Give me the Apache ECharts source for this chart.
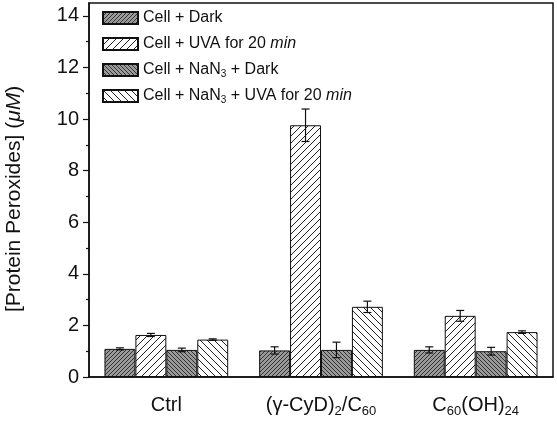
<!DOCTYPE html>
<html><head><meta charset="utf-8">
<script src="https://cdn.jsdelivr.net/npm/echarts@6/dist/echarts.min.js"></script>
<style>html,body{margin:0;padding:0;background:#fff}#c{width:557px;height:426px}</style>
</head><body><div id="c"></div>
<script>
const categories = ['Ctrl', '(γ-CyD)2/C60', 'C60(OH)24'];
const categoryLabels = ['Ctrl', '(γ-CyD){sub|2}/C{sub|60}', 'C{sub|60}(OH){sub|24}'];
const seriesNames = ['Cell + Dark', 'Cell + UVA for 20 min', 'Cell + NaN3 + Dark', 'Cell + NaN3 + UVA for 20 min'];
const seriesLabels = ['Cell + Dark', 'Cell + UVA for 20 {it|min}', 'Cell + NaN{sub|3} + Dark', 'Cell + NaN{sub|3} + UVA for 20 {it|min}'];
const darkValues = [1.09, 1.03, 1.05];
const darkErr = [0.04, 0.14, 0.12];
const uvaValues = [1.63, 9.76, 2.37];
const uvaErr = [0.06, 0.63, 0.21];
const nanDarkValues = [1.05, 1.05, 1.00];
const nanDarkErr = [0.07, 0.30, 0.15];
const nanUvaValues = [1.45, 2.72, 1.74];
const nanUvaErr = [0.03, 0.22, 0.05];
const yMajorTicks = [0, 2, 4, 6, 8, 10, 12, 14];
const yMinorTicks = [1, 3, 5, 7, 9, 11, 13];

function hatch(size, dir, bg, fg, lw) {
  const cv = document.createElement('canvas');
  cv.width = size; cv.height = size;
  const g = cv.getContext('2d');
  g.fillStyle = bg; g.fillRect(0, 0, size, size);
  g.strokeStyle = fg; g.lineWidth = lw;
  g.beginPath();
  if (dir > 0) {
    g.moveTo(-1, size + 1); g.lineTo(size + 1, -1);
    g.moveTo(-1, 1); g.lineTo(1, -1);
    g.moveTo(size - 1, size + 1); g.lineTo(size + 1, size - 1);
  } else {
    g.moveTo(-1, -1); g.lineTo(size + 1, size + 1);
    g.moveTo(size - 1, -1); g.lineTo(size + 1, 1);
    g.moveTo(-1, size - 1); g.lineTo(1, size + 1);
  }
  g.stroke();
  return { image: cv, repeat: 'repeat' };
}
const fills = [
  hatch(4, 1, '#9a9a9a', '#333', 1),
  hatch(7, 1, '#ffffff', '#222', 1),
  hatch(4, -1, '#9a9a9a', '#333', 1),
  hatch(7, -1, '#ffffff', '#222', 1)
];
const values = [darkValues, uvaValues, nanDarkValues, nanUvaValues];
const errs = [darkErr, uvaErr, nanDarkErr, nanUvaErr];
const offsets = [-0.3, -0.1, 0.1, 0.3];
const font = 'Liberation Sans, Arial, sans-serif';

const series = [];
values.forEach((v, i) => {
  series.push({
    name: seriesNames[i], type: 'bar', data: v, barGap: '0%', barCategoryGap: '20%',
    itemStyle: { color: fills[i], borderColor: '#111', borderWidth: 1 }
  });
});
values.forEach((v, i) => {
  series.push({
    type: 'custom', z: 5, silent: true,
    data: v.map((val, k) => [k, val, errs[i][k]]),
    encode: { x: 0, y: 1 },
    renderItem: function (params, api) {
      const c = api.value(0), val = api.value(1), e = api.value(2);
      const w = api.size([1, 0])[0];
      const off = offsets[i] * w;
      const hi = api.coord([c, val + e]);
      const lo = api.coord([c, val - e]);
      const x = hi[0] + off;
      const cap = 4;
      const st = { stroke: '#111', lineWidth: 1.2 };
      return { type: 'group', children: [
        { type: 'line', shape: { x1: x, y1: hi[1], x2: x, y2: lo[1] }, style: st },
        { type: 'line', shape: { x1: x - cap, y1: hi[1], x2: x + cap, y2: hi[1] }, style: st },
        { type: 'line', shape: { x1: x - cap, y1: lo[1], x2: x + cap, y2: lo[1] }, style: st }
      ]};
    }
  });
});

const chart = echarts.init(document.getElementById('c'), null, { renderer: 'canvas' });
chart.setOption({
  animation: false,
  backgroundColor: '#fff',
  grid: { left: 89, right: 4, top: 3, bottom: 49, show: true, borderColor: '#111', borderWidth: 1.5,
    backgroundColor: 'transparent', outerBoundsMode: 'none', containLabel: false },
  legend: {
    data: seriesNames, orient: 'vertical', left: 102, top: 7, itemGap: 4, padding: 0,
    itemWidth: 35, itemHeight: 12, icon: 'rect',
    formatter: name => seriesLabels[seriesNames.indexOf(name)],
    textStyle: { fontFamily: font, fontSize: 16, color: '#111', lineHeight: 22,
      rich: { sub: { fontFamily: font, fontSize: 10, lineHeight: 11, color: '#111', padding: [9, 0, 0, 0] },
              it: { fontFamily: font, fontSize: 16, lineHeight: 22, fontStyle: 'italic', color: '#111' } } }
  },
  xAxis: {
    type: 'category', data: categories,
    axisLine: { lineStyle: { color: '#111', width: 1.5 } },
    axisTick: { show: false },
    axisLabel: { interval: 0, margin: 14, fontFamily: font, fontSize: 20, lineHeight: 28, color: '#111',
      formatter: (v, idx) => categoryLabels[idx],
      rich: { sub: { fontFamily: font, fontSize: 13, lineHeight: 14, color: '#111', padding: [12, 0, 0, 0] } } }
  },
  yAxis: [{
    type: 'value', min: 0, max: 14.5,
    name: '[Protein Peroxides] ({it|μM})', nameLocation: 'middle', nameGap: 64,
    nameTextStyle: { fontFamily: font, fontSize: 21, color: '#111', padding: [0, 18, 0, 0],
      rich: { it: { fontFamily: font, fontSize: 21, fontStyle: 'italic', color: '#111' } } },
    axisLine: { show: true, lineStyle: { color: '#111', width: 1.5 } },
    axisTick: { show: true, length: 6, lineStyle: { color: '#111', width: 1.2 }, customValues: yMajorTicks },
    axisLabel: { fontFamily: font, fontSize: 20, color: '#111', margin: 10, customValues: yMajorTicks },
    splitLine: { show: false }
  }, {
    type: 'value', min: 0, max: 14.5, position: 'left',
    axisLine: { show: false },
    axisTick: { show: true, length: 3, lineStyle: { color: '#111', width: 1.2 }, customValues: yMinorTicks },
    axisLabel: { show: false },
    splitLine: { show: false }
  }],
  series: series
});
</script></body></html>
